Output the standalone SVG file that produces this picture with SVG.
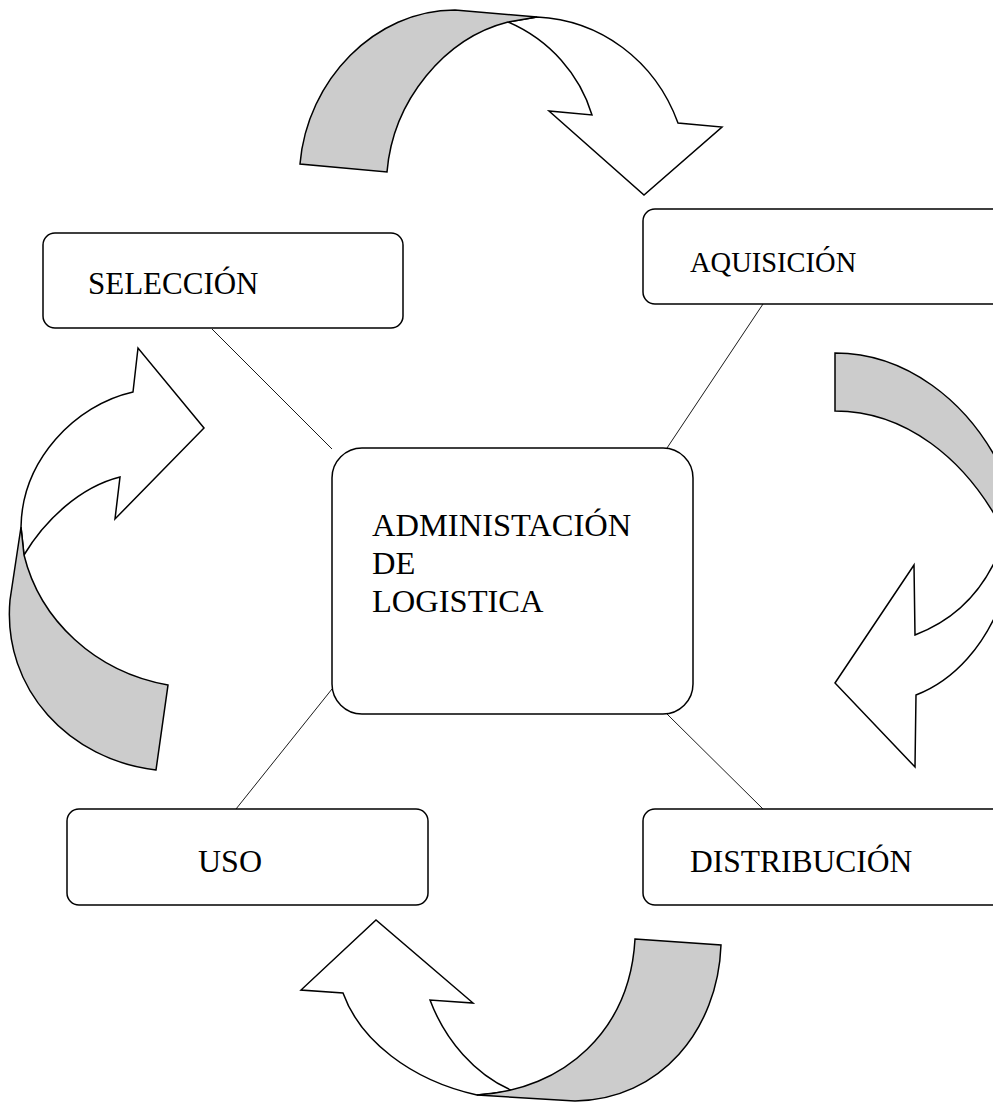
<svg xmlns="http://www.w3.org/2000/svg" width="993" height="1102" viewBox="0 0 993 1102">
  <style>
    .box { fill: #ffffff; stroke: #000000; stroke-width: 1.5; }
    .lbl { font-family: "Liberation Serif", "Times New Roman", serif; fill: #000000; }
    .link { stroke: #000000; stroke-width: 0.9; fill: none; }
    .head { fill: #ffffff; stroke: #000000; stroke-width: 1.5; stroke-linejoin: miter; }
    .tail { fill: #cccccc; stroke: #000000; stroke-width: 1.5; stroke-linejoin: miter; }
  </style>
  <rect width="993" height="1102" fill="#ffffff"/>

  <!-- spokes from the hub to each stage -->
  <g id="connectors">
    <line class="link" x1="212" y1="329" x2="332" y2="449"/>
    <line class="link" x1="763" y1="304" x2="667" y2="448"/>
    <line class="link" x1="332" y1="689" x2="236" y2="809"/>
    <line class="link" x1="667" y1="714" x2="763" y2="809"/>
  </g>

  <!-- curved cycle arrows -->
  <g id="arrow-top">
    <path class="head" d="M508,22 C550,40 580,75 592,115 L549,111 L644,195 L722,127 L678,123 C655,60 600,20 537,17 Z"/>
    <path class="tail" d="M300,164 C307,80 375,10 455,10 L537,17 L508,22 C445,38 393,100 387,172 Z"/>
  </g>
  <g id="arrow-right">
    <path class="tail" d="M835,353 C905,353 968,400 1002,470 L1002,528 C965,458 905,411 835,411 Z"/>
    <path class="head" d="M1002,545 C985,590 955,620 915,635 L914,565 L835,683 L915,767 L916,695 C955,680 985,645 1002,600 Z"/>
  </g>
  <g id="arrow-bottom">
    <path class="head" d="M477,1095 C410,1080 360,1040 343,993 L301,990 L376,920 L473,1003 L430,1000 C445,1040 475,1075 513,1091 Z"/>
    <path class="tail" d="M635,939 L721,945 C718,1030 660,1100 575,1101 L477,1095 C565,1090 630,1030 635,939 Z"/>
  </g>
  <g id="arrow-left">
    <path class="head" d="M24,555 C45,520 80,487 120,477 L115,519 L204,428 L138,348 L133,392 C75,405 22,460 21,527 Z"/>
    <path class="tail" d="M21,527 L10,600 C2,690 70,760 156,770 L168,685 C95,672 40,620 24,555 Z"/>
  </g>

  <g id="node-seleccion">
    <rect class="box" x="43" y="233" width="360" height="95" rx="12"/>
    <text class="lbl" x="88" y="294" font-size="31">SELECCIÓN</text>
  </g>
  <g id="node-aquisicion">
    <rect class="box" x="643" y="209" width="380" height="95" rx="12"/>
    <text class="lbl" x="690" y="272" font-size="28.5">AQUISICIÓN</text>
  </g>
  <g id="node-administracion">
    <rect class="box" x="332" y="448" width="361" height="266" rx="30"/>
    <text class="lbl" x="372" y="536" font-size="32.5">ADMINISTACIÓN</text>
    <text class="lbl" x="372" y="574" font-size="32.5">DE</text>
    <text class="lbl" x="372" y="612" font-size="32.5">LOGISTICA</text>
  </g>
  <g id="node-uso">
    <rect class="box" x="67" y="809" width="361" height="96" rx="12"/>
    <text class="lbl" x="198" y="872" font-size="32">USO</text>
  </g>
  <g id="node-distribucion">
    <rect class="box" x="643" y="809" width="380" height="96" rx="12"/>
    <text class="lbl" x="690" y="872" font-size="31.5">DISTRIBUCIÓN</text>
  </g>
</svg>
